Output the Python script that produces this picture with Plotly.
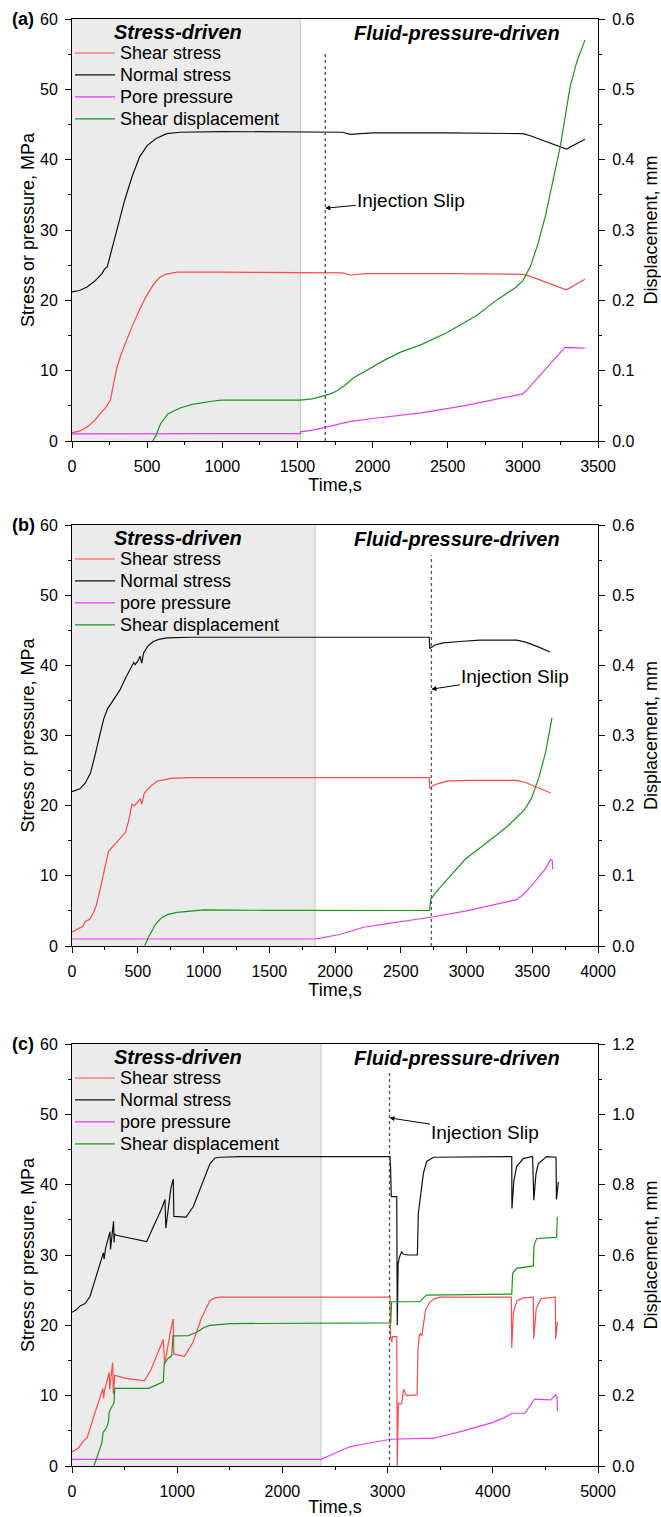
import plotly.graph_objects as go

# ---------------- data: panel (a) ----------------
a_shear_t = [0, 50, 100, 150, 200, 220, 240, 256, 280, 300, 326, 360, 400, 450, 495, 540, 580, 620, 700, 1000, 1500, 1800, 1850, 1950, 2500, 3000, 3050, 3150, 3290, 3413]
a_shear_v = [1.2, 1.4, 2.0, 2.9, 4.2, 4.6, 5.3, 5.9, 8.5, 10.5, 12.3, 14.2, 16.3, 18.7, 20.6, 22.2, 23.2, 23.7, 24.0, 24.0, 24.0, 23.9, 23.6, 23.8, 23.8, 23.7, 23.4, 22.6, 21.5, 23.0]
a_normal_t = [0, 50, 100, 150, 200, 215, 235, 260, 300, 350, 400, 450, 500, 560, 630, 720, 1000, 1500, 1800, 1850, 1900, 2000, 2500, 3000, 3050, 3100, 3200, 3290, 3413]
a_normal_v = [21.2, 21.4, 21.9, 22.7, 23.8, 24.4, 24.8, 26.8, 30.2, 34.2, 37.6, 40.4, 42.0, 43.0, 43.7, 43.9, 44.0, 44.0, 43.9, 43.6, 43.7, 43.8, 43.8, 43.7, 43.4, 43.0, 42.3, 41.5, 42.9]
a_pore_t = [0, 1519, 1520, 1600, 1677, 1760, 1845, 2000, 2324, 2605, 2800, 2999, 3020, 3280, 3413]
a_pore_v = [1.0, 1.05, 1.3, 1.55, 1.9, 2.35, 2.75, 3.2, 4.0, 5.0, 5.8, 6.7, 7.1, 13.3, 13.2]
a_disp_t = [537, 560, 580, 594, 615, 636, 680, 720, 800, 861, 930, 993, 1519, 1600, 1677, 1720, 1761, 1820, 1874, 1986, 2080, 2183, 2324, 2493, 2690, 2830, 2950, 3000, 3050, 3100, 3150, 3200, 3250, 3314, 3360, 3413]
a_disp_v = [0.0, 0.008, 0.02, 0.026, 0.032, 0.038, 0.043, 0.047, 0.052, 0.0545, 0.0565, 0.058, 0.058, 0.06, 0.064, 0.067, 0.071, 0.08, 0.09, 0.104, 0.115, 0.126, 0.137, 0.154, 0.178, 0.201, 0.218, 0.228, 0.248, 0.28, 0.32, 0.37, 0.42, 0.503, 0.54, 0.57]

# ---------------- data: panel (b) ----------------
b_shear_t = [0, 84, 100, 116, 135, 160, 185, 210, 245, 278, 340, 407, 430, 456, 475, 490, 520, 530, 550, 600, 650, 750, 900, 2717, 2720, 2760, 2850, 3000, 3380, 3450, 3550, 3640]
b_shear_v = [2.0, 2.8, 3.5, 3.6, 3.8, 4.6, 5.8, 7.8, 10.9, 13.5, 14.8, 16.2, 17.8, 20.2, 20.0, 20.3, 21.0, 20.2, 21.8, 22.8, 23.5, 23.9, 24.0, 24.0, 22.5, 23.0, 23.5, 23.6, 23.6, 23.3, 22.5, 21.8]
b_normal_t = [0, 60, 100, 140, 170, 200, 240, 270, 320, 365, 410, 454, 470, 480, 500, 517, 530, 545, 580, 618, 660, 720, 900, 2717, 2720, 2760, 2822, 2950, 3103, 3381, 3450, 3550, 3635]
b_normal_v = [22.0, 22.4, 23.2, 24.6, 26.8, 29.2, 32.3, 33.8, 35.2, 36.5, 38.3, 40.0, 40.4, 40.1, 40.6, 41.3, 40.3, 41.8, 42.8, 43.4, 43.7, 43.9, 44.0, 44.0, 42.4, 42.9, 43.2, 43.4, 43.6, 43.6, 43.3, 42.6, 41.9]
b_pore_t = [0, 1845, 1900, 1950, 2023, 2100, 2217, 2400, 2727, 2992, 3200, 3380, 3430, 3500, 3600, 3640, 3652, 3655]
b_pore_v = [1.0, 1.0, 1.15, 1.3, 1.6, 2.0, 2.67, 3.2, 4.1, 4.96, 5.8, 6.6, 7.3, 8.7, 11.0, 12.35, 12.2, 10.9]
b_disp_t = [553, 580, 610, 633, 680, 730, 800, 892, 1001, 1500, 2000, 2720, 2727, 2760, 2830, 2900, 2992, 3153, 3315, 3444, 3493, 3550, 3600, 3650]
b_disp_v = [0.0, 0.012, 0.022, 0.0305, 0.04, 0.045, 0.048, 0.0496, 0.0515, 0.0508, 0.0505, 0.0506, 0.066, 0.075, 0.09, 0.105, 0.124, 0.147, 0.171, 0.195, 0.21, 0.24, 0.275, 0.325]

# ---------------- data: panel (c) ----------------
c_shear_t = [0, 64, 100, 145, 200, 250, 293, 300, 310, 354, 358, 386, 394, 406, 500, 687, 748, 868, 880, 950, 963, 968, 1069, 1150, 1230, 1310, 1360, 1407, 3023, 3028, 3040, 3045, 3087, 3092, 3102, 3125, 3135, 3151, 3180, 3280, 3288, 3300, 3312, 3325, 3340, 3360, 3400, 3450, 3500, 4176, 4180, 4196, 4230, 4290, 4385, 4389, 4413, 4460, 4594, 4598, 4614]
c_shear_v = [2.0, 2.6, 3.4, 4.05, 6.7, 9.0, 11.0, 9.6, 10.8, 13.3, 10.9, 14.7, 10.2, 12.9, 12.5, 12.1, 13.6, 18.0, 14.5, 20.2, 20.9, 15.9, 15.6, 17.6, 21.0, 23.5, 23.9, 24.0, 24.0, 18.3, 17.6, 18.4, 18.4, 0.0, 8.9, 8.8, 8.9, 10.9, 10.0, 10.1, 16.2, 18.5, 18.8, 18.5, 20.2, 22.1, 23.3, 23.8, 24.0, 24.0, 16.8, 21.9, 23.5, 23.9, 24.0, 18.1, 22.4, 23.8, 24.0, 18.1, 20.5]
c_normal_t = [0, 40, 80, 124, 171, 230, 290, 298, 305, 320, 361, 366, 395, 400, 405, 420, 710, 773, 850, 884, 892, 940, 963, 968, 1084, 1153, 1230, 1312, 1360, 1407, 1600, 3023, 3028, 3035, 3087, 3092, 3100, 3115, 3134, 3150, 3197, 3283, 3292, 3315, 3340, 3372, 3435, 4180, 4182, 4200, 4227, 4290, 4378, 4390, 4410, 4433, 4512, 4601, 4605, 4623]
c_normal_v = [21.85, 22.2, 22.8, 23.1, 24.1, 27.0, 29.6, 30.3, 29.4, 31.0, 33.3, 30.8, 34.8, 31.8, 33.0, 32.8, 31.9, 34.0, 36.5, 37.9, 33.8, 39.5, 40.8, 35.5, 35.4, 36.9, 40.0, 43.0, 43.8, 43.9, 44.0, 44.0, 42.5, 38.3, 38.3, 20.0, 28.8, 29.8, 30.5, 30.1, 30.0, 30.0, 35.9, 38.5, 41.6, 43.3, 43.9, 44.0, 36.6, 40.5, 42.6, 43.7, 44.0, 37.8, 41.5, 43.0, 44.0, 43.9, 37.9, 40.4]
c_pore_t = [0, 2363, 2450, 2550, 2636, 2800, 3030, 3440, 3722, 4003, 4100, 4184, 4305, 4397, 4546, 4598, 4610, 4614]
c_pore_v = [0.95, 0.95, 1.5, 2.1, 2.7, 3.2, 3.8, 3.95, 5.0, 6.2, 6.8, 7.5, 7.5, 9.5, 9.4, 10.1, 9.9, 7.8]
c_disp_t = [209, 230, 260, 285, 295, 305, 330, 346, 352, 366, 400, 406, 727, 800, 868, 876, 910, 948, 960, 1109, 1150, 1190, 1250, 1310, 1511, 2363, 3030, 3038, 3308, 3340, 3372, 4180, 4189, 4227, 4385, 4392, 4417, 4607, 4613]
c_disp_v = [0.0, 0.02, 0.05, 0.067, 0.095, 0.1, 0.11, 0.124, 0.15, 0.162, 0.18, 0.221, 0.221, 0.23, 0.24, 0.29, 0.305, 0.314, 0.37, 0.371, 0.375, 0.381, 0.393, 0.40, 0.405, 0.407, 0.407, 0.467, 0.467, 0.478, 0.486, 0.489, 0.548, 0.562, 0.569, 0.628, 0.647, 0.65, 0.709]

series_names = ["Shear stress", "Normal stress", "Pore pressure", "Shear displacement"]
series_names_bc = ["Shear stress", "Normal stress", "pore pressure", "Shear displacement"]
panel_labels = ["(a)", "(b)", "(c)"]
x_max = [3500, 4000, 5000]
x_dtick = [500, 500, 1000]
disp_max = [0.6, 0.6, 1.2]
disp_dtick = [0.1, 0.1, 0.2]
shade_end = [1519, 1848, 2367]
inj_time = [1685, 2733, 3018]
inj_top = [55.3, 55.7, 55.9]
inj_arrow_y = [33.1, 36.6, 49.5]

# ---------------- layout helpers ----------------
W, H = 661, 1517
FONT = "Liberation Sans, Arial, sans-serif"
RED, BLACK, MAG, GREEN = "#ff4a4a", "#111111", "#e040f5", "#1a961a"

def px(x):
    return x / W

def py(y):
    return 1 - y / H

panel_px = [(19, 441), (525, 946), (1044, 1466)]
plot_left, plot_right = 72, 598

fig = go.Figure()

data = [
    [(a_shear_t, a_shear_v), (a_normal_t, a_normal_v), (a_pore_t, a_pore_v), (a_disp_t, a_disp_v)],
    [(b_shear_t, b_shear_v), (b_normal_t, b_normal_v), (b_pore_t, b_pore_v), (b_disp_t, b_disp_v)],
    [(c_shear_t, c_shear_v), (c_normal_t, c_normal_v), (c_pore_t, c_pore_v), (c_disp_t, c_disp_v)],
]
colors = [RED, BLACK, MAG, GREEN]

layout = dict(
    width=W, height=H, autosize=False,
    margin=dict(l=0, r=0, t=0, b=0),
    paper_bgcolor="white", plot_bgcolor="white",
    font=dict(family=FONT, color="black", size=16),
    showlegend=True,
)
shapes = []
annotations = []

for i in range(3):
    top, bot = panel_px[i]
    xa = "xaxis" if i == 0 else f"xaxis{i+1}"
    xref = "x" if i == 0 else f"x{i+1}"
    yl = 2 * i + 1
    yr = 2 * i + 2
    yla = "yaxis" if yl == 1 else f"yaxis{yl}"
    ylref = "y" if yl == 1 else f"y{yl}"
    yra = f"yaxis{yr}"
    yrref = f"y{yr}"
    leg = "legend" if i == 0 else f"legend{i+1}"
    names = series_names if i == 0 else series_names_bc

    for k in range(4):
        t, v = data[i][k]
        fig.add_trace(go.Scatter(
            x=t, y=v, mode="lines",
            name=f'<span style="font-size:18px">{names[k]}</span>',
            line=dict(color=colors[k], width=1.2),
            xaxis=xref, yaxis=(yrref if k == 3 else ylref),
            legend=leg, showlegend=True,
        ))

    common = dict(showline=True, linecolor="black", linewidth=1, ticks="outside",
                  ticklen=6, tickwidth=1, tickcolor="black", showgrid=False,
                  zeroline=False, automargin=False, tickfont=dict(size=16, family=FONT))
    layout[xa] = dict(common, domain=[px(plot_left), px(plot_right)],
                      range=[0, x_max[i]], dtick=x_dtick[i], tick0=0, anchor=ylref,
                      mirror=True, ticklabelstandoff=5,
                      minor=dict(ticks="outside", ticklen=3, dtick=x_dtick[i] / 2, tickcolor="black"),
                      title=dict(text="Time,s", font=dict(size=18), standoff=1))
    layout[yla] = dict(common, domain=[py(bot), py(top)], range=[0, 60], dtick=10,
                       tick0=0, anchor=xref, ticklabelstandoff=4,
                       minor=dict(ticks="outside", ticklen=3, dtick=5, tickcolor="black"),
                       title=dict(text="Stress or pressure, MPa", font=dict(size=18), standoff=0))
    layout[yra] = dict(common, domain=[py(bot), py(top)], range=[0, disp_max[i]],
                       dtick=disp_dtick[i], tick0=0, tickformat=".1f", anchor=xref,
                       overlaying=ylref, side="right", ticklabelstandoff=4,
                       minor=dict(ticks="outside", ticklen=3, dtick=disp_dtick[i] / 2, tickcolor="black"),
                       title=dict(text="Displacement, mm", font=dict(size=18), standoff=13))

    layout[leg] = dict(x=px(70), y=py(top + 18), xanchor="left", yanchor="top",
                       bgcolor="rgba(0,0,0,0)", borderwidth=0,
                       font=dict(size=14.6, family=FONT), itemwidth=40, tracegroupgap=0)

    # shaded stress-driven region
    shapes.append(dict(type="rect", xref=xref, yref=ylref, x0=0, x1=shade_end[i], y0=0, y1=60,
                       fillcolor="#ebebeb", line=dict(width=0), layer="below"))
    shapes.append(dict(type="line", xref=xref, yref=ylref, x0=shade_end[i], x1=shade_end[i], y0=0, y1=60,
                       line=dict(color="#c4c4c4", width=1), layer="below"))
    # injection slip dotted line
    shapes.append(dict(type="line", xref=xref, yref=ylref, x0=inj_time[i], x1=inj_time[i], y0=0, y1=inj_top[i],
                       line=dict(color="#555555", width=1.3, dash="dot")))

    # texts
    annotations.append(dict(text=f"<b>{panel_labels[i]}</b>", xref="paper", yref="paper",
                            x=px(23), y=py(top), xanchor="center", yanchor="middle",
                            showarrow=False, font=dict(size=18)))
    annotations.append(dict(text="<b><i>Stress-driven</i></b>", xref="paper", yref="paper",
                            x=px(178), y=py(top + 13), xanchor="center", yanchor="middle",
                            showarrow=False, font=dict(size=20)))
    annotations.append(dict(text="<b><i>Fluid-pressure-driven</i></b>", xref="paper", yref="paper",
                            x=px(457), y=py(top + 14), xanchor="center", yanchor="middle",
                            showarrow=False, font=dict(size=20)))

arrow_offsets = [(86, -8), (84, -13), (96, 15)]
for i in range(3):
    xref = "x" if i == 0 else f"x{i+1}"
    ylref = "y" if i == 0 else f"y{2*i+1}"
    ax, ay = arrow_offsets[i]
    annotations.append(dict(text="Injection Slip", xref=xref, yref=ylref, x=inj_time[i], y=inj_arrow_y[i],
                            ax=ax, ay=ay, showarrow=True, arrowhead=2, arrowsize=1, arrowwidth=1,
                            arrowcolor="black", font=dict(size=19)))

layout["shapes"] = shapes
layout["annotations"] = annotations
fig.update_layout(**layout)

fig.write_html("out.html")
